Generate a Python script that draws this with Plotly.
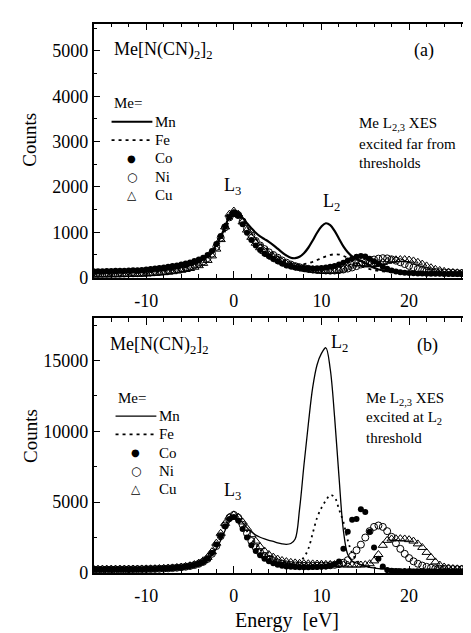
import plotly.graph_objects as go

# ---------------- data ----------------
energy = [-16.0, -15.5, -15.0, -14.5, -14.0, -13.5, -13.0, -12.5, -12.0, -11.5,
          -11.0, -10.5, -10.0, -9.5, -9.0, -8.5, -8.0, -7.5, -7.0, -6.5,
          -6.0, -5.5, -5.0, -4.5, -4.0, -3.5, -3.0, -2.5, -2.0, -1.5,
          -1.0, -0.5, 0.0, 0.5, 1.0, 1.5, 2.0, 2.5, 3.0, 3.5,
          4.0, 4.5, 5.0, 5.5, 6.0, 6.5, 7.0, 7.5, 8.0, 8.5,
          9.0, 9.5, 10.0, 10.5, 11.0, 11.5, 12.0, 12.5, 13.0, 13.5,
          14.0, 14.5, 15.0, 15.5, 16.0, 16.5, 17.0, 17.5, 18.0, 18.5,
          19.0, 19.5, 20.0, 20.5, 21.0, 21.5, 22.0, 22.5, 23.0, 23.5,
          24.0, 24.5, 25.0, 25.5, 26.0, 26.5, 27.0, 27.5, 28.0]

# panel (a): excited far from thresholds
a_mn = [110, 110, 112, 112, 115, 115, 118, 120, 122, 125,
        128, 132, 138, 145, 152, 160, 170, 182, 195, 210,
        230, 250, 275, 310, 350, 410, 480, 580, 720, 900,
        1120, 1360, 1480, 1440, 1320, 1200, 1090, 990, 910, 850,
        790, 720, 640, 560, 490, 440, 430, 460, 540, 660,
        820, 990, 1130, 1200, 1160, 1030, 860, 690, 560, 470,
        410, 370, 320, 270, 220, 180, 160, 145, 135, 125,
        120, 115, 112, 110, 108, 106, 105, 104, 103, 102,
        100, 100, 98, 98, 96, 96, 95, 95, 95]
a_fe = [90, 90, 92, 92, 94, 95, 97, 100, 102, 105,
        108, 112, 117, 123, 130, 138, 148, 160, 175, 192,
        212, 235, 262, 295, 335, 385, 450, 540, 660, 820,
        1030, 1270, 1420, 1400, 1280, 1130, 980, 860, 760, 680,
        610, 540, 470, 410, 360, 320, 300, 295, 300, 320,
        350, 390, 430, 470, 500, 515, 510, 480, 430, 370,
        310, 260, 220, 190, 165, 150, 138, 128, 120, 115,
        110, 106, 103, 100, 98, 96, 95, 94, 93, 92,
        91, 90, 90, 89, 89, 88, 88, 88, 88]
a_co = [140, 140, 142, 145, 148, 150, 152, 155, 158, 162,
        166, 172, 180, 190, 200, 212, 225, 240, 255, 270,
        290, 310, 335, 365, 400, 440, 500, 590, 740, 920,
        1130, 1330, 1420, 1370, 1180, 990, 830, 710, 610, 530,
        470, 410, 360, 310, 270, 245, 225, 215, 210, 205,
        205, 210, 215, 225, 240, 260, 290, 330, 380, 420,
        460, 480, 465, 420, 360, 300, 240, 195, 160, 135,
        120, 110, 102, 96, 92, 90, 88, 86, 85, 84,
        83, 82, 82, 81, 81, 80, 80, 80, 80]
a_ni = [80, 80, 82, 82, 84, 85, 87, 90, 92, 95,
        98, 102, 108, 115, 122, 130, 140, 152, 165, 180,
        198, 220, 245, 275, 310, 360, 430, 530, 680, 880,
        1110, 1330, 1420, 1380, 1240, 1080, 930, 810, 710, 630,
        560, 500, 440, 380, 330, 290, 255, 230, 210, 195,
        180, 170, 162, 158, 155, 158, 165, 180, 200, 225,
        255, 290, 330, 370, 400, 420, 430, 425, 405, 375,
        340, 300, 260, 225, 195, 170, 150, 135, 125, 118,
        112, 108, 104, 100, 98, 96, 95, 94, 93]
a_cu = [60, 60, 62, 62, 64, 65, 66, 68, 70, 72,
        75, 78, 82, 88, 95, 102, 110, 120, 132, 146,
        162, 180, 202, 230, 265, 315, 380, 480, 630, 840,
        1120, 1400, 1470, 1400, 1230, 1050, 890, 760, 660, 580,
        510, 450, 395, 345, 300, 265, 235, 210, 190, 175,
        162, 152, 145, 140, 140, 145, 160, 190, 235, 280,
        310, 310, 290, 280, 290, 310, 335, 360, 380, 395,
        400, 400, 390, 370, 340, 300, 260, 220, 185, 160,
        140, 125, 115, 108, 102, 98, 95, 93, 92]

# panel (b): excited at L2 threshold
b_mn = [250, 250, 250, 252, 252, 255, 255, 258, 260, 262,
        265, 268, 272, 278, 285, 295, 308, 325, 345, 370,
        400, 440, 490, 560, 650, 780, 960, 1250, 1700, 2300,
        3000, 3600, 3900, 3850, 3550, 3200, 2900, 2680, 2520, 2400,
        2300, 2220, 2120, 2050, 2020, 2080, 2400, 4500, 7600, 10500,
        13100, 14700, 15500, 15900, 14400, 11000, 6800, 3000, 1300, 850,
        700, 580, 480, 400, 350, 310, 290, 275, 265, 260,
        255, 252, 250, 250, 248, 248, 246, 246, 245, 245,
        244, 244, 243, 243, 242, 242, 242, 241, 241]
b_fe = [240, 240, 242, 242, 245, 245, 248, 250, 252, 255,
        258, 262, 266, 272, 280, 290, 302, 318, 338, 362,
        390, 430, 480, 550, 650, 800, 1000, 1350, 1850, 2500,
        3200, 3800, 4000, 3850, 3450, 2950, 2450, 2000, 1650, 1350,
        1100, 900, 760, 660, 600, 590, 650, 800, 1100, 1700,
        2800, 3900, 4600, 5100, 5500, 5350, 4500, 3600, 2300, 1400,
        900, 650, 500, 420, 370, 330, 300, 285, 275, 268,
        262, 258, 255, 252, 250, 248, 246, 245, 244, 243,
        242, 242, 241, 241, 240, 240, 240, 240, 240]
b_co = [250, 250, 250, 252, 252, 255, 255, 258, 260, 262,
        265, 268, 272, 278, 285, 295, 308, 325, 345, 370,
        400, 440, 490, 560, 650, 780, 1000, 1400, 2000, 2600,
        3300, 3800, 3950, 3700, 3100, 2500, 1950, 1550, 1250, 1000,
        820, 680, 580, 510, 460, 430, 410, 400, 400, 400,
        410, 420, 440, 460, 500, 600, 800, 1700, 2900, 3750,
        3800, 4500, 4300, 2900, 1800, 1000, 450, 200, 150, 130,
        120, 115, 110, 108, 106, 105, 104, 103, 102, 102,
        101, 101, 100, 100, 100, 100, 100, 100, 100]
b_ni = [245, 245, 247, 247, 250, 250, 252, 255, 257, 260,
        263, 266, 270, 276, 283, 293, 306, 323, 343, 368,
        398, 438, 488, 555, 645, 780, 990, 1350, 1900, 2600,
        3350, 3900, 4100, 3900, 3400, 2800, 2250, 1800, 1450, 1200,
        1000, 850, 740, 660, 600, 560, 530, 510, 500, 495,
        495, 500, 510, 520, 540, 570, 620, 720, 900, 1200,
        1600, 2000, 2500, 2950, 3250, 3350, 3250, 2950, 2550, 2100,
        1700, 1350, 1050, 820, 650, 520, 430, 370, 330, 300,
        285, 275, 268, 262, 258, 255, 252, 250, 250]
b_cu = [260, 260, 262, 262, 265, 265, 268, 270, 272, 275,
        278, 282, 287, 293, 300, 310, 322, 338, 358, 383,
        415, 455, 510, 590, 700, 860, 1100, 1500, 2100, 2800,
        3500, 3950, 4100, 3950, 3600, 3150, 2700, 2250, 1850, 1550,
        1300, 1120, 980, 880, 800, 750, 710, 680, 660, 650,
        640, 630, 620, 610, 600, 590, 580, 570, 560, 560,
        560, 560, 580, 650, 850, 1300, 1950, 2300, 2400, 2420,
        2420, 2400, 2350, 2250, 2050, 1800, 1450, 1100, 780, 560,
        420, 350, 310, 290, 280, 275, 270, 268, 265]

names = ["Mn", "Fe", "Co", "Ni", "Cu"]
x_ticks = [-10, 0, 10, 20]
x_ticktext = ["-10", "0", "10", "20"]
ya_ticks = [0, 1000, 2000, 3000, 4000, 5000]
ya_ticktext = ["0", "1000", "2000", "3000", "4000", "5000"]
yb_ticks = [0, 5000, 10000, 15000]
yb_ticktext = ["0", "5000", "10000", "15000"]

for s in (a_mn, a_fe, a_co, a_ni, a_cu, b_mn, b_fe, b_co, b_ni, b_cu):
    assert len(s) == len(energy), len(s)

# ---------------- figure ----------------
W, H = 471, 633
FONT = "Liberation Serif, Times New Roman, serif"
SYMFONT = "DejaVu Sans, sans-serif"


def px(x):
    return x / W


def py(y):
    return 1 - y / H


fig = go.Figure()

FE_DASH = {"a": "3px,4px", "b": "2px,4px"}


def add_panel(vals, xa, ya, mn_width, dash):
    mn, fe, co, ni, cu = vals
    fig.add_trace(go.Scatter(x=energy, y=mn, name="Mn", mode="lines", xaxis=xa, yaxis=ya,
                             line=dict(color="black", width=mn_width, shape="spline"),
                             showlegend=False))
    fig.add_trace(go.Scatter(x=energy, y=fe, name="Fe", mode="lines", xaxis=xa, yaxis=ya,
                             line=dict(color="black", width=1.8, dash=dash, shape="spline"),
                             showlegend=False))
    fig.add_trace(go.Scatter(x=energy, y=co, name="Co", mode="markers", xaxis=xa, yaxis=ya,
                             marker=dict(symbol="circle", size=6, color="black"),
                             showlegend=False))
    fig.add_trace(go.Scatter(x=energy, y=ni, name="Ni", mode="markers", xaxis=xa, yaxis=ya,
                             marker=dict(symbol="circle-open", size=7, color="black",
                                         line=dict(width=1)), showlegend=False))
    fig.add_trace(go.Scatter(x=energy, y=cu, name="Cu", mode="markers", xaxis=xa, yaxis=ya,
                             marker=dict(symbol="triangle-up-open", size=8, color="black",
                                         line=dict(width=1)), showlegend=False))


add_panel((a_mn, a_fe, a_co, a_ni, a_cu), "x", "y", 2.2, FE_DASH["a"])
add_panel((b_mn, b_fe, b_co, b_ni, b_cu), "x2", "y2", 1.3, FE_DASH["b"])

xdom = [px(86), 1.0]
xrange = [-16, 27.75]
tickfont = dict(family=FONT, size=18, color="black")

common_x = dict(range=xrange, domain=xdom, showline=True, linecolor="black", linewidth=1.5,
                mirror="allticks", ticks="inside", ticklen=7, tickwidth=1.2, tickcolor="black",
                tickvals=x_ticks, ticktext=x_ticktext, tickfont=tickfont, showgrid=False,
                zeroline=False, ticklabelstandoff=6,
                minor=dict(dtick=2, tick0=0, ticks="inside", ticklen=4, tickwidth=1, tickcolor="black"))

fig.update_layout(
    width=W, height=H,
    margin=dict(l=0, r=0, t=0, b=0),
    paper_bgcolor="white", plot_bgcolor="white",
    font=dict(family=FONT, color="black"),
    showlegend=False,
    xaxis=dict(anchor="y", **common_x),
    xaxis2=dict(anchor="y2", **common_x),
    yaxis=dict(anchor="x", domain=[py(274), py(16)], range=[0, 5600], showline=True,
               linecolor="black", linewidth=1.5, mirror="allticks", ticks="inside", ticklen=7,
               tickwidth=1.2, tickcolor="black", tickvals=ya_ticks, ticktext=ya_ticktext,
               tickfont=tickfont, showgrid=False, zeroline=False,
               minor=dict(dtick=500, ticks="inside", ticklen=4, tickwidth=1, tickcolor="black")),
    yaxis2=dict(anchor="x2", domain=[py(574), py(315)], range=[0, 18000], showline=True,
                linecolor="black", linewidth=1.5, mirror=False, ticks="inside", ticklen=7,
                tickwidth=1.2, tickcolor="black", tickvals=yb_ticks, ticktext=yb_ticktext,
                tickfont=tickfont, showgrid=False, zeroline=False,
                minor=dict(dtick=2500, ticks="inside", ticklen=4, tickwidth=1, tickcolor="black")),
    yaxis3=dict(anchor="x2", overlaying="y2", side="right", range=[0, 18000], showline=True,
                linecolor="black", linewidth=1.5, ticks="inside", ticklen=7, tickwidth=1.2,
                tickcolor="black", dtick=5000, showticklabels=False, showgrid=False,
                zeroline=False,
                minor=dict(dtick=1000, ticks="inside", ticklen=4, tickwidth=1, tickcolor="black")),
)


def ann(text, x, y, size, xanchor="center", textangle=0, family=FONT):
    fig.add_annotation(text=text, x=px(x), y=py(y), xref="paper", yref="paper",
                       xanchor=xanchor, yanchor="middle", showarrow=False, textangle=textangle,
                       font=dict(family=family, size=size, color="black"))


def legend_block(x0, y0, mn_width, dash):
    # x0: left of sample line, y0: centre of title row
    ann("Me=", x0, y0, 15, "left")
    step = 18.6
    x1 = x0 + 41
    xm = (x0 + x1) / 2
    ys = [y0 + step * (i + 1) for i in range(5)]
    fig.add_shape(type="line", xref="paper", yref="paper", x0=px(x0), x1=px(x1),
                  y0=py(ys[0]), y1=py(ys[0]), line=dict(color="black", width=mn_width))
    fig.add_shape(type="line", xref="paper", yref="paper", x0=px(x0), x1=px(x1),
                  y0=py(ys[1]), y1=py(ys[1]), line=dict(color="black", width=1.8, dash=dash))
    ann("●", xm, ys[2], 10, family=SYMFONT)
    ann("○", xm, ys[3], 12, family=SYMFONT)
    ann("△", xm, ys[4], 12, family=SYMFONT)
    for name, yy in zip(names, ys):
        ann(name, x1 + 1, yy, 15, "left")


# panel (a)
ann("Me[N(CN)<sub>2</sub>]<sub>2</sub>", 104, 43, 18, "left")
ann("(a)", 418, 43, 18)
legend_block(104, 97, 2.2, FE_DASH["a"])
ann("Me L<sub>2,3</sub> XES", 350, 118, 15, "left")
ann("excited far from", 350, 138, 15, "left")
ann("thresholds", 350, 157, 15, "left")
ann("L<sub>3</sub>", 225, 181, 18)
ann("L<sub>2</sub>", 325, 198, 18)
ann("Counts", 22, 134, 19, textangle=-90)

# panel (b)
ann("Me[N(CN)<sub>2</sub>]<sub>2</sub>", 100, 343, 18, "left")
ann("(b)", 421, 343, 18)
legend_block(108, 396, 1.3, "3px,4px")
ann("L<sub>2</sub>", 333, 341, 18)
ann("Me L<sub>2,3</sub> XES", 358, 397, 15, "left")
ann("excited at L<sub>2</sub>", 358, 417, 15, "left")
ann("threshold", 358, 437, 15, "left")
ann("L<sub>3</sub>", 225, 491, 18)
ann("Counts", 22, 435, 19, textangle=-90)
ann("Energy  [eV]", 280, 622, 20)

fig.write_html("out.html")
